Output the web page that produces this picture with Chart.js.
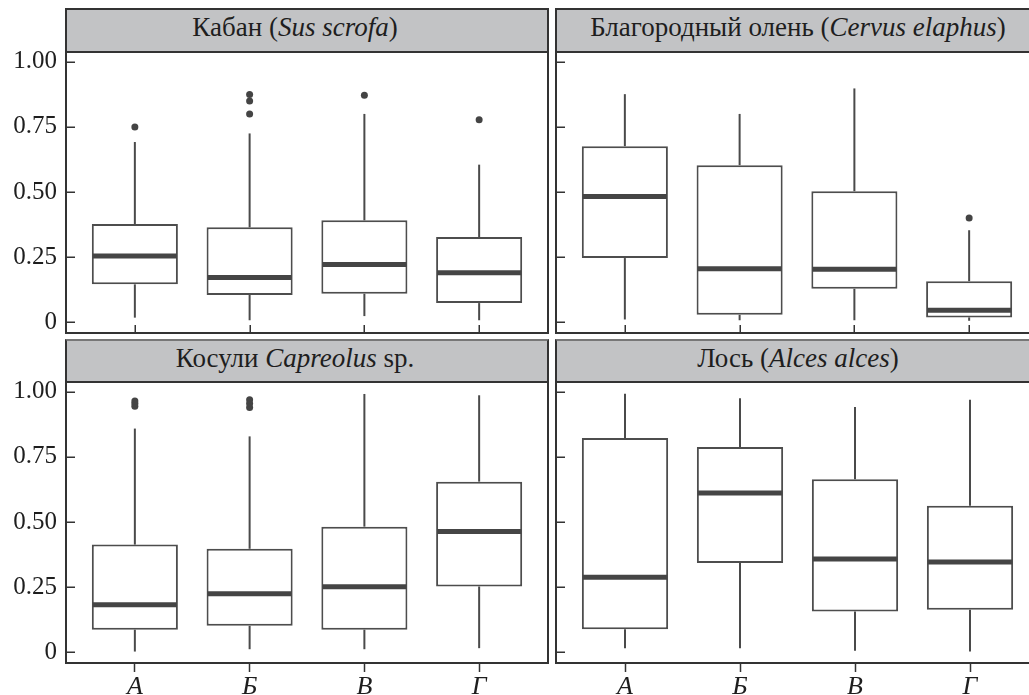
<!DOCTYPE html>
<html>
<head>
<meta charset="utf-8">
<script src="https://cdn.jsdelivr.net/npm/chart.js@4.4.1/dist/chart.umd.min.js"></script>
<style>
  html, body { margin: 0; padding: 0; background: #fff; width: 1029px; height: 695px; overflow: hidden; }
  .panel { position: absolute; }
  .strip {
    position: absolute; box-sizing: border-box;
    background: #c2c3c5; border: 2px solid #333;
    font-family: "Liberation Serif", "Times New Roman", serif; font-size: 27px; line-height: 1;
    color: #1e1e1e; white-space: nowrap;
    display: flex; align-items: center; justify-content: center;
  }
  .strip i { font-style: italic; }
</style>
</head>
<body>
<div class="strip" style="left:65px;top:8px;width:484px;height:45px;padding-right:24px;padding-bottom:6px;">Кабан (<i>Sus scrofa</i>)</div>
<div class="strip" style="left:555px;top:8px;width:486px;height:45px;padding-bottom:6px;">Благородный олень (<i>Cervus elaphus</i>)</div>
<div class="strip" style="left:65px;top:339px;width:484px;height:44px;border-top-color:#777;padding-right:24px;padding-bottom:5px;">Косули&nbsp;<i>Capreolus</i>&nbsp;sp.</div>
<div class="strip" style="left:555px;top:339px;width:486px;height:44px;border-top-color:#777;padding-bottom:5px;">Лось (<i>Alces alces</i>)</div>

<canvas id="boar" class="panel"></canvas>
<canvas id="deer" class="panel"></canvas>
<canvas id="roe" class="panel"></canvas>
<canvas id="moose" class="panel"></canvas>

<script>
// Groups on the x axis
const categories = ['А', 'Б', 'В', 'Г'];
const yTickValues = [0, 0.25, 0.5, 0.75, 1];
const yTickLabels = ['0', '0.25', '0.50', '0.75', '1.00'];

// Кабан (Sus scrofa)
const boarLow = [0.017, 0.007, 0.023, 0.007];
const boarQ1 = [0.145, 0.104, 0.109, 0.073];
const boarMedian = [0.254, 0.171, 0.221, 0.190];
const boarQ3 = [0.377, 0.364, 0.391, 0.327];
const boarHigh = [0.692, 0.725, 0.800, 0.605];
const boarOutliers = [[0.75], [0.80, 0.85, 0.875], [0.872], [0.778]];

// Благородный олень (Cervus elaphus)
const deerLow = [0.010, 0.007, 0.007, 0.005];
const deerQ1 = [0.246, 0.028, 0.128, 0.018];
const deerMedian = [0.483, 0.205, 0.203, 0.045];
const deerQ3 = [0.676, 0.603, 0.503, 0.157];
const deerHigh = [0.876, 0.800, 0.898, 0.353];
const deerOutliers = [[], [], [], [0.40]];

// Косули Capreolus sp.
const roeLow = [0.002, 0.011, 0.011, 0.015];
const roeQ1 = [0.086, 0.101, 0.086, 0.252];
const roeMedian = [0.182, 0.224, 0.251, 0.463];
const roeQ3 = [0.413, 0.397, 0.482, 0.655];
const roeHigh = [0.859, 0.829, 0.992, 0.987];
const roeOutliers = [[0.945, 0.955, 0.965], [0.94, 0.955, 0.97], [], []];

// Лось (Alces alces)
const mooseLow = [0.015, 0.015, 0.005, 0.002];
const mooseQ1 = [0.088, 0.342, 0.156, 0.163];
const mooseMedian = [0.288, 0.611, 0.358, 0.346];
const mooseQ3 = [0.823, 0.788, 0.664, 0.562];
const mooseHigh = [0.993, 0.976, 0.942, 0.970];
const mooseOutliers = [[], [], [], []];

const Y_MIN = -0.042, Y_MAX = 1.038;
const X_MIN = 0.4, X_MAX = 4.6;
const BOX_HALF = 0.375;

Chart.defaults.font.family = '"Liberation Serif", "Times New Roman", serif';
Chart.defaults.color = '#1e1e1e';

// Panel frame plus inward tick marks
function panelFrame(innerX) {
  return {
    id: 'panelFrame',
    afterDraw(chart) {
      const { ctx, chartArea: a, scales: { x, y } } = chart;
      ctx.save();
      ctx.strokeStyle = '#333';
      ctx.lineWidth = 1.5;
      ctx.beginPath();
      y.ticks.forEach(t => {
        const py = Math.round(y.getPixelForValue(t.value)) + 0.25;
        ctx.moveTo(a.left, py); ctx.lineTo(a.left + 9, py);
      });
      if (innerX) {
        x.ticks.forEach(t => {
          const px = Math.round(x.getPixelForValue(t.value)) + 0.25;
          ctx.moveTo(px, a.bottom); ctx.lineTo(px, a.bottom - 8);
        });
      }
      ctx.stroke();
      ctx.lineWidth = 2;
      ctx.strokeRect(a.left, a.top, a.right - a.left, a.bottom - a.top);
      ctx.restore();
    }
  };
}

function noEdgePadding(s) {
  s.paddingTop = 0; s.paddingBottom = 0; s.paddingLeft = 0; s.paddingRight = 0;
}

function makePanel(id, low, q1, med, q3, high, outliers, place) {
  const canvas = document.getElementById(id);
  canvas.style.left = place.cx + 'px';
  canvas.style.top = place.cy + 'px';
  canvas.width = place.cw; canvas.height = place.ch;
  canvas.style.width = place.cw + 'px'; canvas.style.height = place.ch + 'px';

  const xs = categories.map((c, i) => i + 1);
  const outlierPoints = [];
  outliers.forEach((list, i) => list.forEach(v => outlierPoints.push({ x: i + 1, y: v })));

  const whisker = {
    type: 'bar', grouped: false, backgroundColor: '#4a4a4a', borderWidth: 0,
    categoryPercentage: 1, barPercentage: 0.75, maxBarThickness: 2, order: 4
  };

  new Chart(canvas, {
    type: 'bar',
    data: {
      datasets: [
        Object.assign({ data: xs.map((x, i) => ({ x, y: [q3[i], high[i]] })) }, whisker),
        Object.assign({ data: xs.map((x, i) => ({ x, y: [low[i], q1[i]] })) }, whisker),
        {
          type: 'bar', grouped: false, order: 3,
          data: xs.map((x, i) => ({ x, y: [q1[i], q3[i]] })),
          backgroundColor: '#fff', borderColor: '#4d4d4d', borderWidth: 2, borderSkipped: false,
          categoryPercentage: 1, barPercentage: 2 * BOX_HALF
        },
        {
          type: 'scatter', order: 1,
          data: xs.map((x, i) => ({ x, y: med[i] })),
          pointStyle: 'line', borderColor: '#454545', borderWidth: 5,
          radius: (ctx) => {
            const s = ctx.chart.scales.x;
            return s ? (s.getPixelForValue(1 + BOX_HALF) - s.getPixelForValue(1)) - 1 : 40;
          },
          hoverRadius: 0
        },
        {
          type: 'scatter', order: 0,
          data: outlierPoints,
          pointStyle: 'circle', radius: 3.5, backgroundColor: '#444', borderWidth: 0
        }
      ]
    },
    options: {
      responsive: false, animation: false, events: [],
      layout: { padding: { top: place.padTop, right: place.padRight, left: 0, bottom: 0 } },
      plugins: { legend: { display: false }, tooltip: { enabled: false } },
      scales: {
        x: {
          type: 'linear', min: X_MIN, max: X_MAX, offset: false,
          afterBuildTicks: (s) => { s.ticks = xs.map(v => ({ value: v })); },
          afterFit: (s) => { s.height = place.xAxisH; noEdgePadding(s); },
          border: { display: false },
          grid: place.xLabels
            ? { display: true, offset: false, drawOnChartArea: false, drawTicks: true, tickLength: 9, tickColor: '#333', tickWidth: 1.5 }
            : { display: false, drawTicks: false },
          ticks: {
            display: place.xLabels, padding: 0, color: '#1e1e1e', maxRotation: 0,
            font: { size: 26, style: 'italic' },
            callback: (v) => categories[v - 1]
          }
        },
        y: {
          type: 'linear', min: Y_MIN, max: Y_MAX,
          afterBuildTicks: (s) => { s.ticks = yTickValues.map(v => ({ value: v })); },
          afterFit: (s) => { s.width = place.yAxisW; noEdgePadding(s); },
          border: { display: false },
          grid: { display: false, drawTicks: false },
          ticks: {
            display: place.yLabels, padding: 9, color: '#1e1e1e',
            font: { size: 25 },
            callback: (v) => yTickLabels[yTickValues.indexOf(v)]
          }
        }
      }
    },
    plugins: [panelFrame(!place.xLabels)]
  });
}

makePanel('boar', boarLow, boarQ1, boarMedian, boarQ3, boarHigh, boarOutliers,
  { cx: 0, cy: 48, cw: 552, ch: 289, padTop: 4, padRight: 4, yAxisW: 66, xAxisH: 4, xLabels: false, yLabels: true });
makePanel('deer', deerLow, deerQ1, deerMedian, deerQ3, deerHigh, deerOutliers,
  { cx: 552, cy: 48, cw: 490, ch: 289, padTop: 4, padRight: 3, yAxisW: 4, xAxisH: 4, xLabels: false, yLabels: false });
makePanel('roe', roeLow, roeQ1, roeMedian, roeQ3, roeHigh, roeOutliers,
  { cx: 0, cy: 378, cw: 552, ch: 317, padTop: 4, padRight: 4, yAxisW: 66, xAxisH: 32, xLabels: true, yLabels: true });
makePanel('moose', mooseLow, mooseQ1, mooseMedian, mooseQ3, mooseHigh, mooseOutliers,
  { cx: 552, cy: 378, cw: 490, ch: 317, padTop: 4, padRight: 3, yAxisW: 4, xAxisH: 32, xLabels: true, yLabels: false });
</script>
</body>
</html>
